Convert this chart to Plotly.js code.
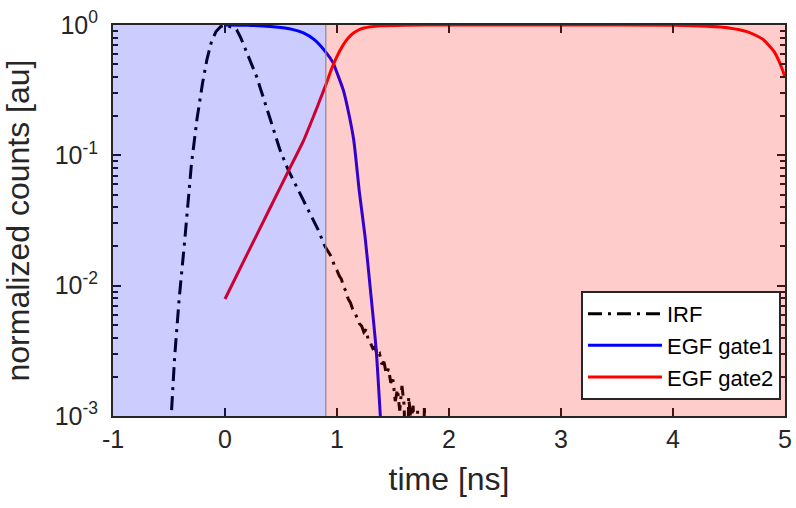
<!DOCTYPE html>
<html>
<head>
<meta charset="utf-8">
<script src="https://cdn.plot.ly/plotly-3.0.1.min.js"></script>
<style>html,body{margin:0;padding:0;background:#fff;}#chart{width:796px;height:508px;}</style>
</head>
<body>
<div id="chart"></div>
<script>
// ---- data ----
const irfX = [-0.52,-0.48,-0.45,-0.41,-0.36,-0.30,-0.25,-0.20,-0.16,-0.12,-0.08,-0.04,0.00,0.04,0.08,0.104,0.14,0.18,0.22,0.283,0.40,0.491,0.565,0.65,0.759,0.83,0.893,
  0.92,0.94,0.96,0.98,1.00,1.02,1.04,1.06,1.08,1.10,1.12,1.14,1.16,1.18,1.20,1.22,1.24,1.26,1.28,1.30,1.32,1.34,1.36,1.38,1.40,1.42,1.44,1.46,1.48,1.50,1.52,1.54,1.56,1.58,1.60,1.62,1.64,1.66,1.68,1.70,1.72,1.74,1.76,1.78,1.80,1.82];
const irfY = [0.0004,0.001,0.0028,0.0078,0.022,0.085,0.19,0.36,0.55,0.75,0.89,0.97,1.0,0.98,0.95,0.92,0.80,0.66,0.54,0.40,0.194,0.11,0.077,0.055,0.036,0.027,0.020,
  0.0185,0.0172,0.0158,0.0139,0.0131,0.0119,0.0112,0.0097,0.0091,0.0079,0.0074,0.0066,0.0062,0.0057,0.0051,0.0049,0.0044,0.0046,0.0038,0.0036,0.0033,0.0034,0.0029,0.0030,0.0025,0.0026,0.0021,0.0023,0.0018,0.0019,0.0013,0.0016,0.0011,0.0017,0.0012,0.0001,0.0014,0.0009,0.0012,0.0001,0.0011,0.0001,0.0001,0.00115,0.0001,0.0001];

const gate1X = [0.00,0.20,0.40,0.50,0.60,0.70,0.80,0.90,0.967,1.00,1.056,1.10,1.15,1.20,1.25,1.30,1.35,1.39,1.42];
const gate1Y = [1.0,0.995,0.975,0.955,0.925,0.87,0.77,0.62,0.51,0.43,0.317,0.22,0.13,0.052,0.024,0.009,0.0032,0.0009,0.0003];

const gate2X = [0.00,0.20,0.40,0.60,0.70,0.80,0.85,0.90,0.95,1.00,1.05,1.10,1.15,1.20,1.30,1.40,1.60,2.00,3.00,4.00,4.30,4.50,4.66,4.80,4.90,4.95,5.00];
const gate2Y = [0.0079,0.0176,0.0391,0.0867,0.129,0.209,0.269,0.347,0.457,0.575,0.692,0.794,0.871,0.923,0.968,0.986,0.997,1.0,1.0,0.995,0.98,0.95,0.89,0.78,0.63,0.52,0.40];

const gateEdges = [-1, 0.9, 5];
const xTicks = [-1,0,1,2,3,4,5];
const xTickText = ['-1','0','1','2','3','4','5'];
const yTicks = [0.001,0.01,0.1,1];
const yTickText = ['10<sup>-3</sup>','10<sup>-2</sup>','10<sup>-1</sup>','10<sup>0</sup>'];
const yMinorTicks = [0.002,0.003,0.004,0.005,0.006,0.007,0.008,0.009,0.02,0.03,0.04,0.05,0.06,0.07,0.08,0.09,0.2,0.3,0.4,0.5,0.6,0.7,0.8,0.9];
const names = ['IRF','EGF gate1','EGF gate2'];

const FONT = 'Liberation Sans, Arial, Helvetica, sans-serif';
const TXT = '#262626';

const traces = [
  {x: irfX, y: irfY, name: names[0], mode: 'lines', line: {color: '#000000', width: 3, dash: '14px,6px,3px,6px'}},
  {x: gate1X, y: gate1Y, name: names[1], mode: 'lines', line: {color: 'rgb(0,0,255)', width: 3, shape: 'spline', smoothing: 0.6}},
  {x: gate2X, y: gate2Y, name: names[2], mode: 'lines', line: {color: 'rgb(255,0,0)', width: 3, shape: 'spline', smoothing: 0.6}}
];

const layout = {
  width: 796, height: 508,
  margin: {l: 113, r: 11, t: 25, b: 92},
  paper_bgcolor: '#ffffff', plot_bgcolor: '#ffffff',
  font: {family: FONT, color: TXT, size: 25},
  showlegend: true,
  legend: {x: 0.994, xanchor: 'right', y: 0.041, yanchor: 'bottom', bgcolor: '#ffffff', bordercolor: '#262626', borderwidth: 2,
           font: {family: FONT, size: 22, color: '#000'}, tracegroupgap: 0, itemwidth: 74},
  xaxis: {
    range: [-1, 5], tickvals: xTicks, ticktext: xTickText, ticks: 'inside', ticklen: 8, tickwidth: 2, tickcolor: '#1a1a1a',
    showline: true, linecolor: '#262626', linewidth: 2, mirror: 'ticks', showgrid: false, zeroline: false,
    tickfont: {family: FONT, size: 25, color: TXT},
    title: {text: 'time [ns]', font: {family: FONT, size: 32, color: TXT}, standoff: 16}
  },
  yaxis: {
    type: 'log', range: [-3, 0], tickvals: yTicks, ticktext: yTickText, ticks: 'inside', ticklen: 8, tickwidth: 2, tickcolor: '#1a1a1a',
    minor: {tickmode: 'array', tickvals: yMinorTicks, ticks: 'inside', ticklen: 5, tickwidth: 2, tickcolor: '#1a1a1a'},
    showline: true, linecolor: '#262626', linewidth: 2, mirror: 'ticks', showgrid: false, zeroline: false,
    tickfont: {family: FONT, size: 25, color: TXT}, ticklabelstandoff: 8,
    title: {text: 'normalized counts [au]', font: {family: FONT, size: 32, color: TXT}, standoff: 16}
  },
  shapes: [
    {type: 'rect', xref: 'x', yref: 'paper', x0: gateEdges[0], x1: gateEdges[1], y0: 0, y1: 1, fillcolor: 'rgb(0,0,255)', opacity: 0.2, line: {width: 0}, layer: 'above'},
    {type: 'rect', xref: 'x', yref: 'paper', x0: gateEdges[1], x1: gateEdges[2], y0: 0, y1: 1, fillcolor: 'rgb(255,0,0)', opacity: 0.2, line: {width: 0}, layer: 'above'},
    {type: 'line', xref: 'x', yref: 'paper', x0: gateEdges[1], x1: gateEdges[1], y0: 0, y1: 1, line: {color: '#8a8a8a', width: 1.2}, layer: 'above'}
  ]
};

Plotly.newPlot('chart', traces, layout, {displayModeBar: false, staticPlot: true});
</script>
</body>
</html>
